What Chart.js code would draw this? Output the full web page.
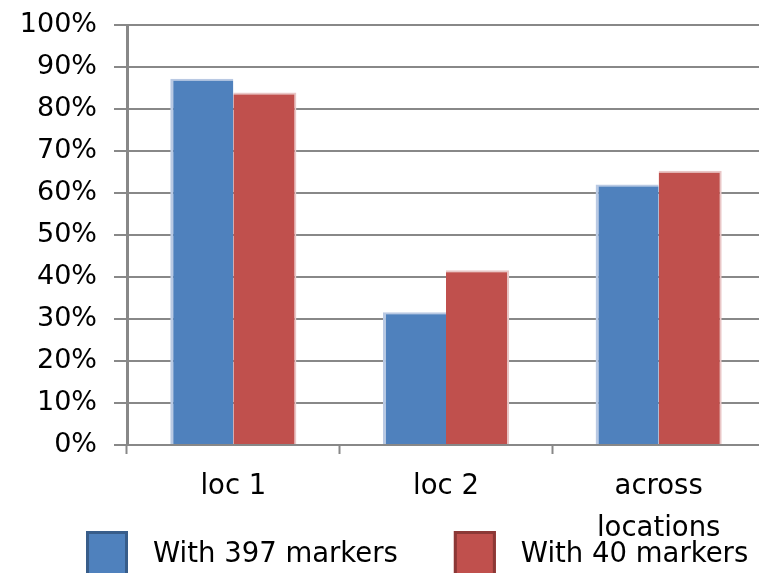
<!DOCTYPE html>
<html>
<head>
<meta charset="utf-8">
<script src="https://cdn.jsdelivr.net/npm/chart.js@4/dist/chart.umd.min.js"></script>
<style>
  html, body { margin: 0; padding: 0; background: #fff; overflow: hidden; }
  #wrap { width: 759px; height: 573px; overflow: hidden; }
  canvas { display: block; }
</style>
</head>
<body>
<div id="wrap"><canvas id="c" width="770" height="600"></canvas></div>
<script>
// Share of correct assignments per location, in percent
const categories = ['loc 1', 'loc 2', ['across', 'locations']];
const seriesNames = ['With 397 markers', 'With 40 markers'];
const markers397 = [87.2, 31.6, 62.0];
const markers40 = [83.9, 41.6, 65.3];
const yTicks = [0, 10, 20, 30, 40, 50, 60, 70, 80, 90, 100];

const FONT = 'DejaVu Sans';
const GRID = '#888888';

// Legend drawn as large square swatches with labels under the axis
const swatchLegend = {
  id: 'swatchLegend',
  afterDraw(chart, args, opts) {
    const ctx = chart.ctx;
    ctx.save();
    ctx.font = opts.size + 'px "' + FONT + '"';
    ctx.textBaseline = 'alphabetic';
    ctx.textAlign = 'left';
    let x = opts.x;
    chart.data.datasets.forEach((ds) => {
      ctx.fillStyle = ds.backgroundColor;
      ctx.fillRect(x, opts.y, opts.box, opts.boxH);
      ctx.lineWidth = 3;
      ctx.strokeStyle = ds.legendBorder;
      ctx.strokeRect(x + 1.5, opts.y + 1.5, opts.box - 3, opts.boxH - 3);
      const tx = x + opts.box + opts.gap;
      ctx.fillStyle = '#000';
      ctx.fillText(ds.label, tx, opts.baseline);
      x = tx + ctx.measureText(ds.label).width + opts.itemGap;
    });
    ctx.restore();
  }
};

new Chart(document.getElementById('c'), {
  type: 'bar',
  data: {
    labels: categories,
    datasets: [
      {
        label: seriesNames[0],
        data: markers397,
        backgroundColor: '#4f81bd',
        borderColor: '#b9c9e3',
        borderWidth: { top: 2, left: 3, right: 0, bottom: 0 },
        borderSkipped: false,
        legendBorder: '#385d8a'
      },
      {
        label: seriesNames[1],
        data: markers40,
        backgroundColor: '#c0504d',
        borderColor: '#e9c6c6',
        borderWidth: { top: 2, left: 0, right: 2, bottom: 0 },
        borderSkipped: false,
        legendBorder: '#8c3836'
      }
    ]
  },
  options: {
    responsive: false,
    animation: false,
    layout: { padding: { top: 25, right: 5, bottom: 0, left: 0 } },
    datasets: { bar: { categoryPercentage: 0.593, barPercentage: 1.0 } },
    plugins: {
      legend: { display: false },
      tooltip: { enabled: false },
      swatchLegend: { x: 86, y: 531, box: 42, boxH: 46, gap: 25, itemGap: 56, baseline: 562, size: 27.5 }
    },
    scales: {
      x: {
        offset: true,
        grid: {
          display: true,
          drawOnChartArea: false,
          drawTicks: true,
          tickLength: 9,
          tickWidth: 2,
          tickColor: GRID,
          offset: true
        },
        border: { display: true, color: GRID, width: 2 },
        ticks: {
          color: '#000',
          padding: 12,
          maxRotation: 0,
          autoSkip: false,
          font: { family: FONT, size: 27.5, lineHeight: 1.53 }
        },
        afterFit(axis) { axis.height = 155; }
      },
      y: {
        min: 0,
        max: 100,
        afterBuildTicks(axis) { axis.ticks = yTicks.map(v => ({ value: v })); },
        grid: {
          color: GRID,
          lineWidth: 2,
          drawTicks: true,
          tickLength: 13,
          tickColor: GRID
        },
        border: { display: true, color: GRID, width: 3 },
        ticks: {
          color: '#000',
          padding: 17,
          font: { family: FONT, size: 27 },
          callback: (v) => v + '%'
        },
        afterFit(axis) {
          axis.width = 127;
          axis.paddingTop = 10;
        }
      }
    }
  },
  plugins: [swatchLegend]
});
</script>
</body>
</html>
